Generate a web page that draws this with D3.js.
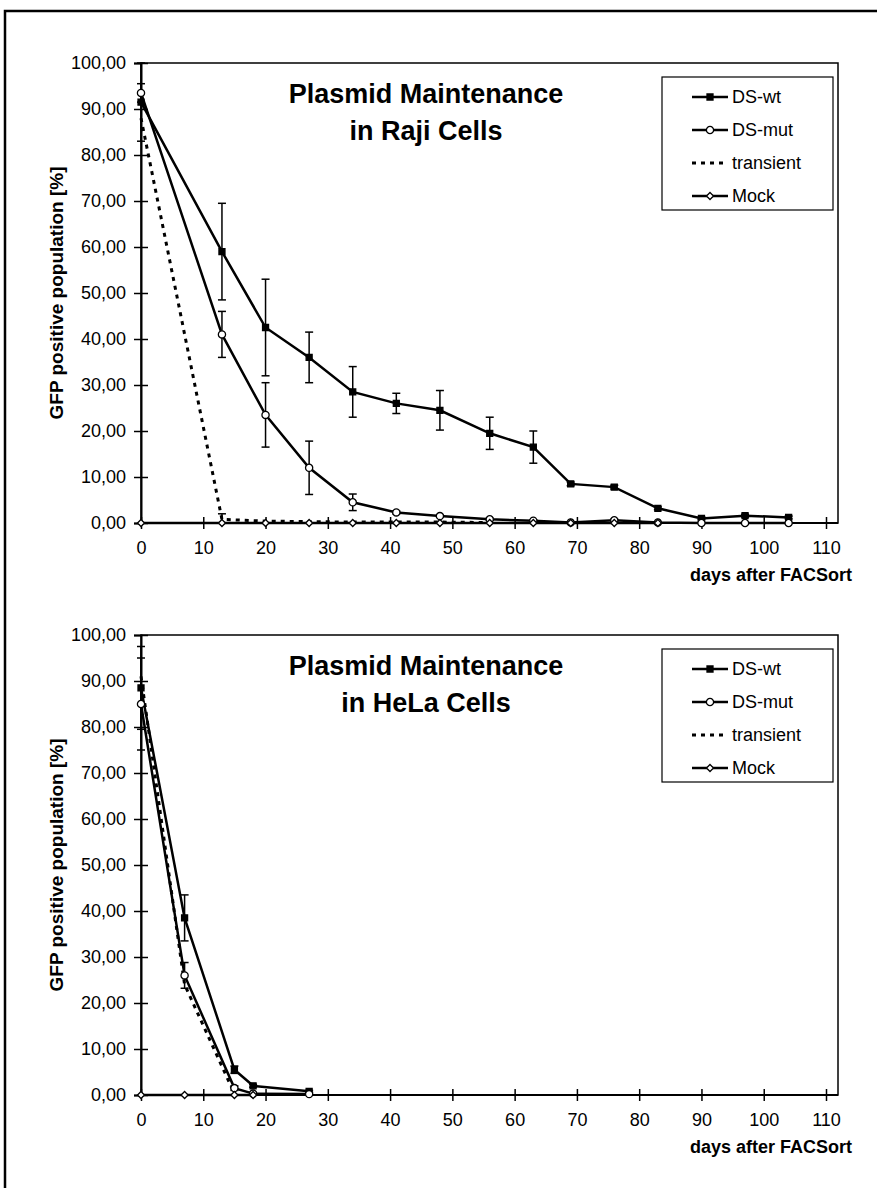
<!DOCTYPE html>
<html>
<head>
<meta charset="utf-8">
<script src="https://cdn.jsdelivr.net/npm/d3@7"></script>
<style>
  body { margin: 0; background: #fff; }
  svg { display: block; font-family: "Liberation Sans", Arial, Helvetica, sans-serif; }
</style>
</head>
<body>
<div id="container"></div>
<script>
//DATA - Raji cells
const rajiDays = [0, 13, 20, 27, 34, 41, 48, 56, 63, 69, 76, 83, 90, 97, 104]
const rajiWt = [91.5, 59, 42.5, 36, 28.5, 26, 24.5, 19.5, 16.5, 8.5, 7.8, 3.2, 1.0, 1.6, 1.2]
const rajiWtErr = [8.5, 10.5, 10.5, 5.5, 5.5, 2.2, 4.3, 3.5, 3.5, 0.4, 0.4, 0.3, 0.3, 0.3, 0.3]
const rajiMut = [93.5, 41, 23.5, 12, 4.5, 2.3, 1.5, 0.8, 0.5, 0.1, 0.6, 0.1, 0, 0, 0]
const rajiMutErr = [2, 5, 7, 5.8, 1.8, 0.3, 0.2, 0.2, 0.2, 0, 0.2, 0, 0, 0, 0]
const rajiTransDays = [0, 13, 20, 27, 34, 41, 48, 56]
const rajiTrans = [88, 0.8, 0.4, 0.3, 0.2, 0.2, 0.2, 0.1]
const rajiTransErr = [0, 1.2, 0, 0, 0, 0, 0, 0]
const rajiMockDays = [0, 13, 20, 27, 34, 41, 48, 56, 63, 69, 76, 83]
const rajiMock = [0, 0, 0, 0, 0, 0, 0, 0, 0, 0, 0, 0]

//DATA - HeLa cells
const helaDays = [0, 7, 15, 18, 27]
const helaWt = [88.5, 38.5, 5.5, 2, 0.8]
const helaWtErr = [9, 5, 0.8, 0.3, 0.2]
const helaMut = [85, 26, 1.5, 0.3, 0.2]
const helaMutErr = [10, 2.8, 0.5, 0, 0]
const helaTransDays = [0, 7, 15]
const helaTrans = [91, 24, 0.3]
const helaTransErr = [0, 0, 0]
const helaMockDays = [0, 7, 15, 18]
const helaMock = [0, 0, 0, 0]

//TICKS / LABELS
const yTicks = [0, 10, 20, 30, 40, 50, 60, 70, 80, 90, 100]
const xTicks = [0, 10, 20, 30, 40, 50, 60, 70, 80, 90, 100, 110]
const seriesNames = ['DS-wt', 'DS-mut', 'transient', 'Mock']
const yTitle = 'GFP positive population [%]'
const xTitle = 'days after FACSort'

//BOX
const w = 877
const h = 1188
const left = 141
const x110 = 826 //position of the last x tick
const right = 838 //plot area edge
const plotH = 460

const svg = d3.select('#container')
    .append('svg')
    .attr('width', w)
    .attr('height', h)

//PAGE FRAME
svg.append('path')
    .attr('d', 'M5,' + h + ' V11 H' + w)
    .attr('fill', 'none')
    .attr('stroke', '#000')
    .attr('stroke-width', 2.5)

const fmt = v => d3.format('.2f')(v).replace('.', ',')

function zip(days, vals, errs) {
    return days.map((d, i) => ({ x: d, y: vals[i], e: errs ? errs[i] : 0 }))
}

function markerPath(type) {
    if (type === 'square') return 'M-3,-3H3V3H-3Z'
    if (type === 'circle') return 'M-3.6,0A3.6,3.6 0 1,0 3.6,0A3.6,3.6 0 1,0 -3.6,0Z'
    return 'M0,-3.5L3.5,0L0,3.5L-3.5,0Z'
}

function drawPanel(top, titleLines, series) {
    const g = svg.append('g')

    const xscale = d3.scaleLinear().domain([0, 110]).range([left, x110])
    const yscale = d3.scaleLinear().domain([0, 100]).range([top + plotH, top])

    //plot border
    g.append('rect')
        .attr('x', left)
        .attr('y', top)
        .attr('width', right - left)
        .attr('height', plotH)
        .attr('fill', 'none')
        .attr('stroke', '#000')
        .attr('stroke-width', 1.5)

    //Y AXIS
    const yaxis = d3.axisLeft(yscale)
        .tickValues(yTicks)
        .tickFormat(fmt)
        .tickSize(7)
        .tickPadding(8)
    const ya = g.append('g')
        .attr('transform', 'translate(' + left + ',0)')
        .call(yaxis)
    ya.select('.domain').attr('stroke', '#000').attr('stroke-width', 2)
    ya.selectAll('.tick line').attr('x1', 7).attr('stroke', '#000').attr('stroke-width', 1.5)
    ya.selectAll('.tick text')
        .attr('fill', '#000')
        .style('font-size', '18px')
        .style('font-family', '"Liberation Sans", Arial, sans-serif')

    //X AXIS
    const xaxis = d3.axisBottom(xscale)
        .tickValues(xTicks)
        .tickSize(6)
        .tickPadding(12)
    const xa = g.append('g')
        .attr('transform', 'translate(0,' + (top + plotH) + ')')
        .call(xaxis)
    xa.select('.domain').remove()
    xa.append('line')
        .attr('x1', left).attr('x2', right)
        .attr('stroke', '#000')
        .attr('stroke-width', 2)
    xa.selectAll('.tick line').attr('y1', -6).attr('stroke', '#000').attr('stroke-width', 1.5)
    xa.selectAll('.tick text')
        .attr('fill', '#000')
        .style('font-size', '18px')
        .style('font-family', '"Liberation Sans", Arial, sans-serif')

    //AXIS TITLES
    g.append('text')
        .attr('transform', 'translate(63,' + (top + plotH / 2) + ') rotate(-90)')
        .attr('text-anchor', 'middle')
        .style('font-size', '19px')
        .style('font-weight', 'bold')
        .text(yTitle)

    g.append('text')
        .attr('x', 852)
        .attr('y', top + plotH + 58)
        .attr('text-anchor', 'end')
        .style('font-size', '18px')
        .style('font-weight', 'bold')
        .text(xTitle)

    //TITLE
    titleLines.forEach((t, i) => {
        g.append('text')
            .attr('x', 426)
            .attr('y', top + 40 + i * 37)
            .attr('text-anchor', 'middle')
            .style('font-size', '27px')
            .style('font-weight', 'bold')
            .text(t)
    })

    const line = d3.line().x(d => xscale(d.x)).y(d => yscale(d.y))

    //ERROR BARS
    series.forEach(s => {
        const eb = g.append('g').selectAll('g')
            .data(s.data.filter(d => d.e > 0))
            .enter()
            .append('g')
            .attr('stroke', '#000')
            .attr('stroke-width', 1.5)
        eb.append('line')
            .attr('x1', d => xscale(d.x)).attr('x2', d => xscale(d.x))
            .attr('y1', d => yscale(Math.min(100, d.y + d.e)))
            .attr('y2', d => yscale(Math.max(0, d.y - d.e)))
        eb.append('line')
            .attr('x1', d => xscale(d.x) - 4).attr('x2', d => xscale(d.x) + 4)
            .attr('y1', d => yscale(Math.min(100, d.y + d.e)))
            .attr('y2', d => yscale(Math.min(100, d.y + d.e)))
        eb.filter(d => d.y - d.e > 0).append('line')
            .attr('x1', d => xscale(d.x) - 4).attr('x2', d => xscale(d.x) + 4)
            .attr('y1', d => yscale(d.y - d.e))
            .attr('y2', d => yscale(d.y - d.e))
    })

    //LINES
    series.forEach(s => {
        g.append('path')
            .datum(s.data)
            .attr('d', line)
            .attr('fill', 'none')
            .attr('stroke', '#000')
            .attr('stroke-width', s.dash ? 3 : 2.5)
            .attr('stroke-dasharray', s.dash ? '4,5' : null)
    })

    //MARKERS
    series.forEach(s => {
        if (!s.marker) return
        g.append('g').selectAll('path')
            .data(s.data)
            .enter()
            .append('path')
            .attr('transform', d => 'translate(' + xscale(d.x) + ',' + yscale(d.y) + ')')
            .attr('d', markerPath(s.marker))
            .attr('fill', s.marker === 'square' ? '#000' : '#fff')
            .attr('stroke', '#000')
            .attr('stroke-width', 1.3)
    })

    //LEGEND
    const lx = 662
    const ly = top + 14
    const leg = g.append('g')
    leg.append('rect')
        .attr('x', lx)
        .attr('y', ly)
        .attr('width', 171)
        .attr('height', 133)
        .attr('fill', '#fff')
        .attr('stroke', '#000')
        .attr('stroke-width', 1.2)
    const items = leg.selectAll('g.item')
        .data(series)
        .enter()
        .append('g')
        .attr('class', 'item')
        .attr('transform', (d, i) => 'translate(0,' + (ly + 20 + i * 33) + ')')
    items.append('line')
        .attr('x1', 692).attr('x2', 728)
        .attr('stroke', '#000')
        .attr('stroke-width', d => d.dash ? 3 : 2.5)
        .attr('stroke-dasharray', d => d.dash ? '4,5' : null)
    items.filter(d => d.marker)
        .append('path')
        .attr('transform', 'translate(710,0)')
        .attr('d', d => markerPath(d.marker))
        .attr('fill', d => d.marker === 'square' ? '#000' : '#fff')
        .attr('stroke', '#000')
        .attr('stroke-width', 1.3)
    items.append('text')
        .attr('x', 732)
        .attr('y', 6)
        .style('font-size', '18px')
        .text(d => d.name)
}

drawPanel(63, ['Plasmid Maintenance', 'in Raji Cells'], [
    { name: seriesNames[0], data: zip(rajiDays, rajiWt, rajiWtErr), marker: 'square' },
    { name: seriesNames[1], data: zip(rajiDays, rajiMut, rajiMutErr), marker: 'circle' },
    { name: seriesNames[2], data: zip(rajiTransDays, rajiTrans, rajiTransErr), dash: true },
    { name: seriesNames[3], data: zip(rajiMockDays, rajiMock), marker: 'diamond' }
])

drawPanel(635, ['Plasmid Maintenance', 'in HeLa Cells'], [
    { name: seriesNames[0], data: zip(helaDays, helaWt, helaWtErr), marker: 'square' },
    { name: seriesNames[1], data: zip(helaDays, helaMut, helaMutErr), marker: 'circle' },
    { name: seriesNames[2], data: zip(helaTransDays, helaTrans, helaTransErr), dash: true },
    { name: seriesNames[3], data: zip(helaMockDays, helaMock), marker: 'diamond' }
])
</script>
</body>
</html>
